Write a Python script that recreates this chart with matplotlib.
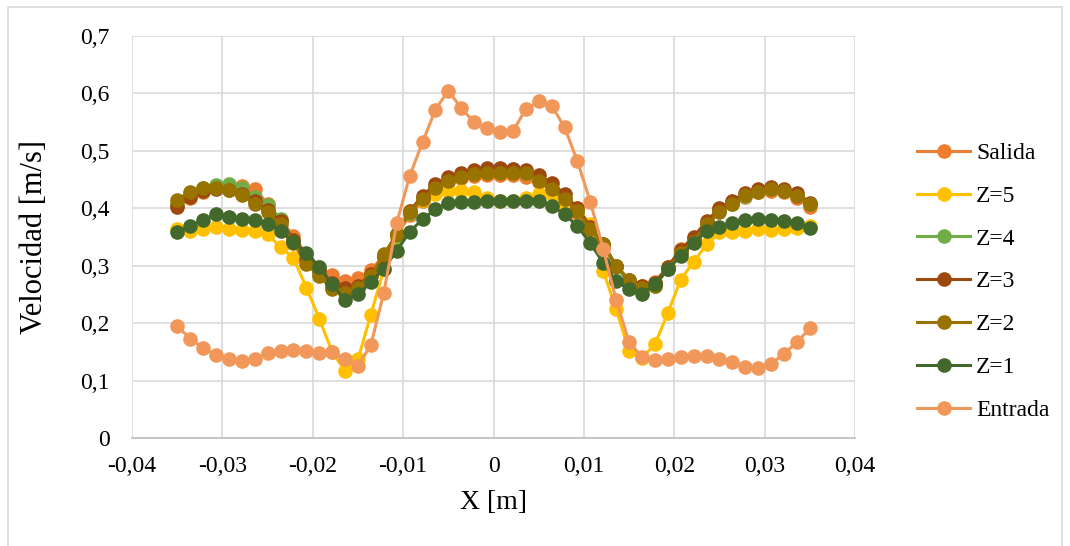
import numpy as np
import matplotlib
matplotlib.use('Agg')
import matplotlib.pyplot as plt
from matplotlib.patches import Rectangle

plt.rcParams['font.family'] = ['Liberation Serif', 'DejaVu Serif']

# posiciones X [m] (50 puntos entre -0,035 y 0,035)
x = np.linspace(-0.035, 0.035, 50)

salida = [0.405, 0.418, 0.428, 0.435, 0.437, 0.438, 0.434, 0.408, 0.380, 0.352,
          0.320, 0.298, 0.283, 0.273, 0.278, 0.292, 0.318, 0.352, 0.388, 0.413,
          0.432, 0.445, 0.452, 0.456, 0.458, 0.458, 0.458, 0.455, 0.446, 0.432,
          0.414, 0.392, 0.362, 0.332, 0.298, 0.272, 0.265, 0.272, 0.298, 0.330,
          0.348, 0.375, 0.398, 0.410, 0.420, 0.428, 0.430, 0.428, 0.418, 0.402]
z5 = [0.364, 0.361, 0.364, 0.367, 0.364, 0.362, 0.361, 0.355, 0.332, 0.314,
      0.262, 0.208, 0.150, 0.117, 0.137, 0.215, 0.294, 0.348, 0.395, 0.415,
      0.425, 0.430, 0.430, 0.428, 0.418, 0.413, 0.413, 0.418, 0.425, 0.425,
      0.407, 0.400, 0.372, 0.291, 0.224, 0.151, 0.140, 0.163, 0.218, 0.276,
      0.307, 0.337, 0.358, 0.358, 0.361, 0.364, 0.363, 0.364, 0.365, 0.369]
z4 = [0.408, 0.425, 0.435, 0.440, 0.443, 0.436, 0.420, 0.405, 0.382, 0.345,
      0.310, 0.285, 0.262, 0.255, 0.262, 0.283, 0.318, 0.352, 0.392, 0.418,
      0.437, 0.450, 0.457, 0.462, 0.466, 0.468, 0.468, 0.462, 0.450, 0.436,
      0.418, 0.396, 0.365, 0.335, 0.298, 0.272, 0.258, 0.265, 0.294, 0.325,
      0.345, 0.372, 0.395, 0.408, 0.422, 0.430, 0.434, 0.431, 0.423, 0.408]
z3 = [0.403, 0.420, 0.430, 0.434, 0.432, 0.425, 0.412, 0.397, 0.378, 0.345,
      0.312, 0.290, 0.270, 0.262, 0.265, 0.285, 0.315, 0.355, 0.395, 0.422,
      0.442, 0.455, 0.462, 0.466, 0.470, 0.471, 0.469, 0.466, 0.458, 0.444,
      0.425, 0.400, 0.368, 0.338, 0.300, 0.275, 0.265, 0.270, 0.298, 0.328,
      0.350, 0.378, 0.400, 0.413, 0.427, 0.433, 0.437, 0.434, 0.426, 0.410]
z2 = [0.415, 0.429, 0.435, 0.436, 0.432, 0.423, 0.408, 0.393, 0.372, 0.340,
      0.303, 0.282, 0.259, 0.252, 0.262, 0.282, 0.320, 0.355, 0.393, 0.417,
      0.436, 0.448, 0.455, 0.459, 0.462, 0.462, 0.462, 0.461, 0.448, 0.433,
      0.416, 0.395, 0.364, 0.337, 0.300, 0.275, 0.262, 0.265, 0.295, 0.322,
      0.342, 0.372, 0.393, 0.407, 0.423, 0.429, 0.433, 0.430, 0.422, 0.407]
z1 = [0.359, 0.369, 0.380, 0.390, 0.384, 0.382, 0.380, 0.372, 0.361, 0.341,
      0.323, 0.298, 0.268, 0.240, 0.250, 0.271, 0.295, 0.326, 0.359, 0.381,
      0.398, 0.410, 0.411, 0.411, 0.413, 0.413, 0.413, 0.412, 0.413, 0.404,
      0.390, 0.369, 0.339, 0.305, 0.273, 0.259, 0.250, 0.268, 0.294, 0.317,
      0.340, 0.361, 0.368, 0.375, 0.380, 0.381, 0.380, 0.378, 0.375, 0.365]
entrada = [0.195, 0.173, 0.157, 0.144, 0.137, 0.134, 0.138, 0.148, 0.152, 0.154,
           0.151, 0.148, 0.149, 0.137, 0.126, 0.162, 0.253, 0.374, 0.456, 0.515,
           0.572, 0.605, 0.574, 0.550, 0.539, 0.533, 0.534, 0.573, 0.586, 0.579,
           0.541, 0.482, 0.411, 0.329, 0.240, 0.167, 0.141, 0.135, 0.138, 0.141,
           0.143, 0.143, 0.138, 0.133, 0.124, 0.122, 0.129, 0.147, 0.167, 0.191]

series = [('Salida', salida, '#ED7D31'),
          ('Z=5', z5, '#FFC000'),
          ('Z=4', z4, '#70AD47'),
          ('Z=3', z3, '#9E480E'),
          ('Z=2', z2, '#997300'),
          ('Z=1', z1, '#43682B'),
          ('Entrada', entrada, '#F1975A')]

xticks = [-0.04, -0.03, -0.02, -0.01, 0, 0.01, 0.02, 0.03, 0.04]
xticklabels = ['-0,04', '-0,03', '-0,02', '-0,01', '0', '0,01', '0,02', '0,03', '0,04']
yticks = [0, 0.1, 0.2, 0.3, 0.4, 0.5, 0.6, 0.7]
yticklabels = ['0', '0,1', '0,2', '0,3', '0,4', '0,5', '0,6', '0,7']

fig = plt.figure(figsize=(10.7, 5.46), dpi=100)
ax = fig.add_axes([0.1234, 0.1978, 0.6757, 0.7362])

for nombre, valores, color in series:
    ax.plot(x, valores, color=color, lw=2.2, marker='o', markersize=9.5, label=nombre)

ax.set_xlim(-0.04, 0.04)
ax.set_ylim(0, 0.7)
ax.set_xticks(xticks)
ax.set_xticklabels(xticklabels)
ax.set_yticks(yticks)
ax.set_yticklabels(yticklabels)
ax.tick_params(length=0, labelsize=17)
ax.tick_params(axis='x', pad=13)
ax.tick_params(axis='y', pad=16)
ax.grid(True, color='#D9D9D9', lw=1.2)
ax.set_axisbelow(True)
for lado in ['top', 'right', 'left']:
    ax.spines[lado].set_visible(False)
ax.spines['bottom'].set_color('#BFBFBF')
ax.spines['bottom'].set_linewidth(1.2)

ax.set_xlabel('X [m]', fontsize=20, va='center')
ax.xaxis.set_label_coords(0.5, -0.16)
ax.set_ylabel('Velocidad [m/s]', fontsize=22, va='center')
ax.yaxis.set_label_coords(-0.135, 0.5)

ax.legend(loc='center left', bbox_to_anchor=(0.857, 0.484), bbox_transform=fig.transFigure,
          frameon=False, fontsize=17, handlelength=2.25, labelspacing=0.9,
          handletextpad=0.25, borderpad=0, borderaxespad=0)

# borde del gráfico
fig.patches.append(Rectangle((0.0075, -0.05), 0.985, 1.037, transform=fig.transFigure,
                             fill=False, edgecolor='#D9D9D9', lw=1.2))

fig.savefig('out.png', dpi=100)
